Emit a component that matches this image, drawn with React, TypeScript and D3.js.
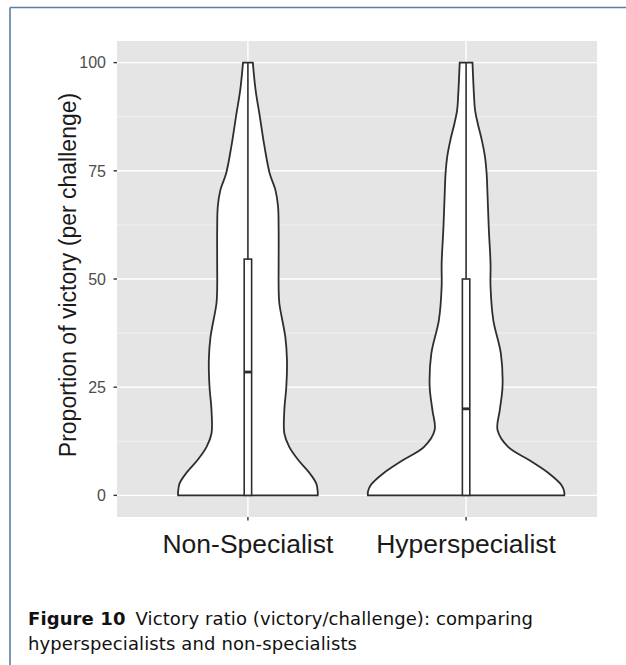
import React from "react";
import * as d3 from "d3";

// categories and summary stats
const categories = ["Non-Specialist", "Hyperspecialist"];
const yTicks = [0, 25, 50, 75, 100];
const yMinor = [12.5, 37.5, 62.5, 87.5];

// violin outlines: value levels and relative density (1 = widest)
const nsLevels = [100, 93.7, 87.6, 80.6, 74.4, 70.6, 66.7, 61.3, 53.6, 48, 44.4, 36.6, 31.25, 25.1, 19.7, 14.3, 11.2, 8.1, 5.0, 2.7, 0.8, 0];
const nsDensity = [0.05, 0.078, 0.121, 0.169, 0.222, 0.28, 0.307, 0.313, 0.313, 0.313, 0.32, 0.381, 0.398, 0.391, 0.371, 0.371, 0.421, 0.515, 0.633, 0.697, 0.711, 0.711];
const hsLevels = [100, 92.2, 89.1, 86, 82.2, 78.3, 74.4, 69, 61.3, 53.6, 48.2, 40.5, 32.8, 25.1, 19.7, 15.1, 11.2, 8.1, 5.0, 2.3, 0.8, 0];
const hsDensity = [0.065, 0.081, 0.091, 0.118, 0.159, 0.192, 0.209, 0.219, 0.232, 0.249, 0.249, 0.277, 0.354, 0.371, 0.343, 0.32, 0.428, 0.646, 0.848, 0.974, 1, 1];

// box stats: q1, median, q3, upper whisker
const q1 = [0, 0];
const medians = [28.5, 20];
const q3 = [54.6, 50];
const whiskerTop = [100, 100];

const W = 626;
const H = 665;
const margin = { left: 117, top: 41, right: 29, bottom: 148 };

export default function App() {
  const x = d3
    .scalePoint<string>()
    .domain(categories)
    .range([margin.left, W - margin.right])
    .padding(0.6);
  const y = d3.scaleLinear().domain([-5, 105]).range([H - margin.bottom, margin.top]);
  const step = x.step();
  const dens = d3.scaleLinear().domain([0, 1]).range([0, step * 0.45]);
  const boxHalf = step * 0.017;

  const violins = [
    { levels: nsLevels, density: nsDensity },
    { levels: hsLevels, density: hsDensity },
  ];

  const panelL = margin.left;
  const panelR = W - margin.right;
  const panelT = margin.top;
  const panelB = H - margin.bottom;

  return (
    <svg
      width={W}
      height={H}
      style={{ position: "absolute", left: 0, top: 0, background: "#fff" }}
      fontFamily="Liberation Sans, Arial, sans-serif"
    >
      {/* frame */}
      <line x1={10} x2={W} y1={7.5} y2={7.5} stroke="#5b7ea6" strokeWidth={1.6} />
      <line x1={10} x2={10} y1={7.5} y2={H} stroke="#5b7ea6" strokeWidth={1.6} />

      {/* panel */}
      <rect x={panelL} y={panelT} width={panelR - panelL} height={panelB - panelT} fill="#e5e5e5" />
      {yMinor.map((t) => (
        <line key={"mn" + t} x1={panelL} x2={panelR} y1={y(t)} y2={y(t)} stroke="#f5f5f5" strokeWidth={0.8} />
      ))}
      {yTicks.map((t) => (
        <line key={"mj" + t} x1={panelL} x2={panelR} y1={y(t)} y2={y(t)} stroke="#fff" strokeWidth={1.4} />
      ))}
      {categories.map((c) => (
        <line key={"vx" + c} x1={x(c)} x2={x(c)} y1={panelT} y2={panelB} stroke="#fff" strokeWidth={1.4} />
      ))}

      {/* violins */}
      {violins.map((v, i) => {
        const cx = x(categories[i]) as number;
        const pts = v.levels.map((l, j) => [l, v.density[j]] as [number, number]);
        const area = d3
          .area<[number, number]>()
          .y((d) => y(d[0]))
          .x0((d) => cx - dens(d[1]))
          .x1((d) => cx + dens(d[1]))
          .curve(d3.curveCatmullRom);
        return (
          <path key={"v" + i} d={area(pts) || ""} fill="#fff" stroke="#2e2e2e" strokeWidth={1.8} />
        );
      })}

      {/* boxplots */}
      {categories.map((c, i) => {
        const cx = x(c) as number;
        return (
          <g key={"b" + c} stroke="#2e2e2e">
            <line x1={cx} x2={cx} y1={y(q3[i])} y2={y(whiskerTop[i])} strokeWidth={1.6} />
            <rect
              x={cx - boxHalf}
              y={y(q3[i])}
              width={boxHalf * 2}
              height={y(q1[i]) - y(q3[i])}
              fill="#fff"
              strokeWidth={1.6}
            />
            <line x1={cx - boxHalf} x2={cx + boxHalf} y1={y(medians[i])} y2={y(medians[i])} strokeWidth={2.8} />
          </g>
        );
      })}

      {/* y axis */}
      {yTicks.map((t) => (
        <g key={"yt" + t}>
          <line x1={panelL - 3.5} x2={panelL} y1={y(t)} y2={y(t)} stroke="#333" strokeWidth={1.4} />
          <text x={panelL - 11} y={y(t)} dy="0.36em" textAnchor="end" fontSize={16} fill="#4d4d4d">
            {t}
          </text>
        </g>
      ))}
      <text
        transform={`translate(76,${(panelT + panelB) / 2 - 4}) rotate(-90)`}
        textAnchor="middle"
        fontSize={23}
        fill="#1a1a1a"
      >
        Proportion of victory (per challenge)
      </text>

      {/* x axis */}
      {categories.map((c) => (
        <g key={"xt" + c}>
          <line x1={x(c)} x2={x(c)} y1={panelB} y2={panelB + 3.5} stroke="#333" strokeWidth={1.4} />
          <text x={x(c)} y={553} textAnchor="middle" fontSize={26.5} fill="#1a1a1a">
            {c}
          </text>
        </g>
      ))}

      {/* caption */}
      <text x={28} y={625} fontSize={18} fill="#111" fontFamily="DejaVu Sans, sans-serif" textLength={505} lengthAdjust="spacing">
        <tspan fontWeight="bold">Figure 10</tspan>
        <tspan dx={10}>Victory ratio (victory/challenge): comparing</tspan>
      </text>
      <text x={28} y={650} fontSize={18} fill="#111" fontFamily="DejaVu Sans, sans-serif" textLength={329} lengthAdjust="spacing">
        hyperspecialists and non-specialists
      </text>
    </svg>
  );
}
